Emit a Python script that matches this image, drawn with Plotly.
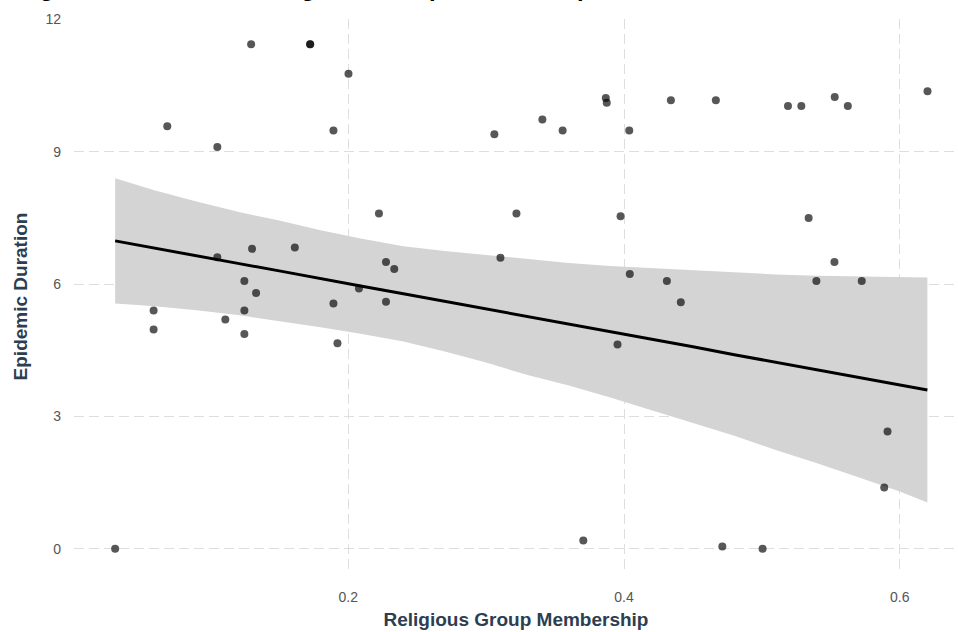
import plotly.graph_objects as go

# ---- data ----
membership = [0.031, 0.0589, 0.0589, 0.0688, 0.1051, 0.1051, 0.1109, 0.1247, 0.1247, 0.1247,
              0.1296, 0.1303, 0.1332, 0.1613, 0.1724, 0.1724, 0.1893, 0.1893, 0.1922, 0.2002,
              0.2078, 0.2223, 0.2274, 0.2334, 0.2274, 0.306, 0.3104, 0.322, 0.3408, 0.3555,
              0.3705, 0.3868, 0.3875, 0.3953, 0.3975, 0.4038, 0.4042, 0.4311, 0.434, 0.4412,
              0.4666, 0.4713, 0.5005, 0.5189, 0.5286, 0.5339, 0.5395, 0.5528, 0.5526, 0.5623,
              0.5724, 0.5887, 0.5911, 0.6201]
duration = [0.00, 5.40, 4.97, 9.58, 9.11, 6.61, 5.20, 6.07, 5.40, 4.87,
            11.44, 6.80, 5.80, 6.83, 11.44, 11.44, 9.48, 5.56, 4.66, 10.77,
            5.90, 7.60, 6.50, 6.34, 5.60, 9.40, 6.60, 7.60, 9.73, 9.48,
            0.19, 10.22, 10.11, 4.63, 7.54, 9.48, 6.23, 6.07, 10.17, 5.59,
            10.17, 0.05, 0.00, 10.04, 10.04, 7.50, 6.07, 10.24, 6.50, 10.04,
            6.07, 1.39, 2.66, 10.37]

# fitted line and 95% band
fit_x = [0.031, 0.06, 0.09, 0.12, 0.15, 0.18, 0.21, 0.24, 0.27, 0.30, 0.33, 0.36,
         0.39, 0.42, 0.45, 0.48, 0.51, 0.54, 0.57, 0.60, 0.62]
fit_y = [6.98, 6.81, 6.64, 6.47, 6.30, 6.12, 5.95, 5.78, 5.61, 5.44, 5.26, 5.09,
         4.92, 4.75, 4.58, 4.40, 4.23, 4.06, 3.89, 3.71, 3.60]
band_lower = [5.56, 5.50, 5.41, 5.30, 5.16, 5.02, 4.87, 4.70, 4.47, 4.22, 3.94, 3.70,
              3.43, 3.14, 2.85, 2.56, 2.24, 1.94, 1.62, 1.30, 1.05]
band_upper = [8.40, 8.12, 7.87, 7.64, 7.44, 7.22, 7.03, 6.86, 6.75, 6.66, 6.58, 6.48,
              6.41, 6.36, 6.31, 6.26, 6.22, 6.19, 6.17, 6.15, 6.15]

x_ticks = [0.2, 0.4, 0.6]
x_tick_labels = ["0.2", "0.4", "0.6"]
y_ticks = [0, 3, 6, 9, 12]
y_tick_labels = ["0", "3", "6", "9", "12"]

title_text = "Negative Influence of Religious Group Membership on Outbreak Duration"
x_title = "Religious Group Membership"
y_title = "Epidemic Duration"

FONT = "Liberation Sans, Arial, sans-serif"
TITLE_COLOR = "#2c3e50"
GRID = "#dedede"

fig = go.Figure()

fig.add_trace(go.Scatter(x=fit_x + fit_x[::-1], y=band_upper + band_lower[::-1],
                         fill="toself", fillcolor="#d4d4d4", line=dict(width=0),
                         mode="lines", hoverinfo="skip", showlegend=False))
fig.add_trace(go.Scatter(x=membership, y=duration, mode="markers",
                         marker=dict(size=8, color="rgba(0,0,0,0.66)", line=dict(width=0)),
                         showlegend=False))
fig.add_trace(go.Scatter(x=fit_x, y=fit_y, mode="lines",
                         line=dict(color="black", width=3), showlegend=False))

fig.update_layout(
    width=958, height=632,
    margin=dict(l=74, r=0, t=19, b=58),
    paper_bgcolor="white", plot_bgcolor="white",
    font=dict(family=FONT),
    showlegend=False,
    xaxis=dict(range=[0.00116, 0.6422], tickvals=x_ticks, ticktext=x_tick_labels,
               showgrid=True, gridcolor=GRID, griddash="10px,5px", gridwidth=1,
               zeroline=False, showline=False, ticks="",
               tickfont=dict(size=14, color="#555555"), ticklabelstandoff=13,
               title=dict(text="<b>" + x_title + "</b>", standoff=8,
                          font=dict(size=19, color=TITLE_COLOR))),
    yaxis=dict(range=[-0.572, 12.01], tickvals=y_ticks, ticktext=y_tick_labels,
               showgrid=True, gridcolor=GRID, griddash="10px,5px", gridwidth=1,
               zeroline=False, showline=False, ticks="",
               tickfont=dict(size=14, color="#555555"), ticklabelstandoff=12,
               title=dict(text="<b>" + y_title + "</b>", standoff=12,
                          font=dict(size=19, color=TITLE_COLOR))),
    annotations=[dict(text="<b>" + title_text + "</b>", xref="paper", yref="paper",
                      x=-0.0758, y=1.0291, xanchor="left", yanchor="bottom",
                      showarrow=False, font=dict(size=24, color="black", family=FONT))],
)

fig.write_html("out.html")
